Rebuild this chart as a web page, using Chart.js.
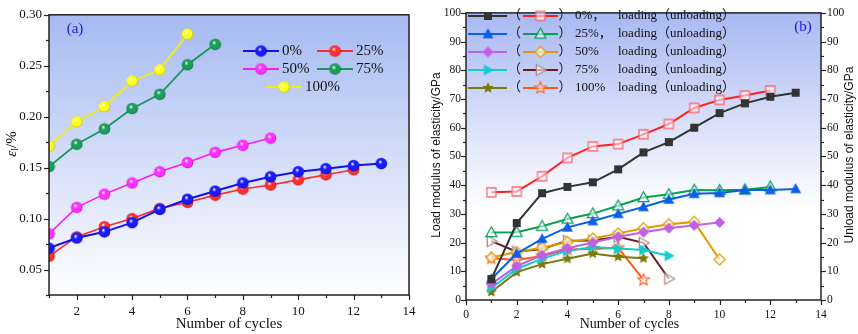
<!DOCTYPE html>
<html>
<head>
<meta charset="utf-8">
<script src="https://cdn.jsdelivr.net/npm/chart.js@4.4.1/dist/chart.umd.min.js"></script>
<style>
    html, body { margin: 0; padding: 0; background: #fff; }
    #wrapA { position: absolute; left: 0; top: 0; }
    #wrapB { position: absolute; left: 425px; top: 0; }
</style>
</head>
<body>
<div id="wrapA"><canvas id="chartA" width="425" height="334"></canvas></div>
<div id="wrapB"><canvas id="chartB" width="433" height="334"></canvas></div>
<script>
// ---- data (a): strain vs cycles ----
const cycles = [1, 2, 3, 4, 5, 6, 7, 8, 9, 10, 11, 12, 13];
const strainLabels = ['0%', '25%', '50%', '75%', '100%'];
const strain0 = [0.071, 0.081, 0.087, 0.096, 0.109, 0.119, 0.127, 0.135, 0.141, 0.146, 0.149, 0.152, 0.154];
const strain25 = [0.063, 0.082, 0.092, 0.100, 0.110, 0.116, 0.123, 0.129, 0.133, 0.138, 0.143, 0.148];
const strain50 = [0.085, 0.111, 0.124, 0.135, 0.146, 0.155, 0.165, 0.172, 0.179];
const strain75 = [0.151, 0.173, 0.188, 0.208, 0.222, 0.251, 0.271];
const strain100 = [0.171, 0.195, 0.210, 0.235, 0.246, 0.281];
const xLabelsA = [2, 4, 6, 8, 10, 12, 14];
const yLabelsA = [0.05, 0.10, 0.15, 0.20, 0.25, 0.30];

// ---- data (b): load / unload modulus ----
const modLabels = ['0%，', '25%，', '50%', '75%', '100%'];
const load0 = [7.3, 26.8, 37.2, 39.4, 41.0, 45.5, 51.4, 55.0, 60.0, 65.1, 68.5, 70.8, 72.2];
const unload0 = [37.5, 37.8, 43.1, 49.5, 53.5, 54.3, 57.7, 61.3, 66.9, 69.7, 71.2, 73.0];
const load25 = [7.3, 16.2, 21.3, 25.3, 27.5, 30.0, 32.4, 35.0, 37.0, 37.3, 38.3, 38.3, 38.7];
const unload25 = [23.5, 23.6, 25.7, 28.2, 30.1, 32.8, 35.7, 36.8, 38.3, 38.2, 38.4, 39.4];
const load50 = [5.6, 11.8, 15.6, 18.0, 20.0, 22.0, 23.6, 25.0, 26.0, 27.0];
const unload50 = [14.8, 16.7, 18.2, 20.2, 21.4, 23.2, 25.0, 26.4, 27.2, 14.1];
const load75 = [4.2, 10.8, 14.4, 17.1, 18.5, 17.9, 17.4, 15.4];
const unload75 = [20.5, 16.8, 17.8, 20.6, 20.7, 22.0, 19.9, 7.4];
const load100 = [2.8, 9.7, 12.5, 14.4, 16.2, 15.1, 14.5];
const unload100 = [14.5, 13.9, 15.3, 17.6, 17.8, 18.2, 7.0];
const xLabelsB = [0, 2, 4, 6, 8, 10, 12, 14];
const yLabelsB = [0, 10, 20, 30, 40, 50, 60, 70, 80, 90, 100];

const SERIF = "'Liberation Serif', 'Times New Roman', 'Noto Sans CJK SC', serif";
const SANS = "'Liberation Sans', Arial, sans-serif";

const toPts = arr => arr.map((y, i) => ({ x: cycles[i], y: y }));

// shaded ball marker for panel (a)
function sphere(color, dark) {
    const c = document.createElement('canvas');
    c.width = 13; c.height = 13;
    const g = c.getContext('2d');
    const grad = g.createRadialGradient(5.2, 4.6, 0.3, 6.5, 6.5, 6.3);
    grad.addColorStop(0, '#ffffff');
    grad.addColorStop(0.3, color);
    grad.addColorStop(0.75, color);
    grad.addColorStop(1, dark);
    g.fillStyle = grad;
    g.beginPath();
    g.arc(6.5, 6.5, 5.8, 0, Math.PI * 2);
    g.fill();
    return c;
}

// symbol markers for panel (b)
function marker(shape, size, fill, stroke) {
    const d = size + 6;
    const c = document.createElement('canvas');
    c.width = d; c.height = d;
    const g = c.getContext('2d');
    const m = d / 2, s = size / 2;
    g.beginPath();
    if (shape === 'square') {
        g.rect(m - s, m - s, size, size);
    } else if (shape === 'tri') {
        g.moveTo(m, m - s * 1.05); g.lineTo(m + s, m + s * 0.75); g.lineTo(m - s, m + s * 0.75); g.closePath();
    } else if (shape === 'diamond') {
        g.moveTo(m, m - s); g.lineTo(m + s, m); g.lineTo(m, m + s); g.lineTo(m - s, m); g.closePath();
    } else if (shape === 'triR') {
        g.moveTo(m + s * 1.05, m); g.lineTo(m - s * 0.75, m - s); g.lineTo(m - s * 0.75, m + s); g.closePath();
    } else if (shape === 'star') {
        for (let k = 0; k < 10; k++) {
            const r = k % 2 ? s * 0.45 : s;
            const a = -Math.PI / 2 + k * Math.PI / 5;
            const px = m + r * Math.cos(a), py = m + r * Math.sin(a);
            if (k === 0) g.moveTo(px, py); else g.lineTo(px, py);
        }
        g.closePath();
    }
    g.fillStyle = fill;
    g.fill();
    if (stroke) {
        g.lineWidth = 1.3;
        g.strokeStyle = stroke;
        g.stroke();
    }
    return c;
}

function lineSet(label, values, color, style, width) {
    return {
        label: label,
        data: toPts(values),
        borderColor: color,
        backgroundColor: color,
        borderWidth: width,
        pointStyle: style,
        pointRadius: 6,
        tension: 0
    };
}

// ---- panel (a) styles ----
const seriesA = [
    { data: strain0, color: '#1212ee', ball: sphere('#1a1aff', '#00007a'), w: 2 },
    { data: strain25, color: '#ff2a2a', ball: sphere('#ff3030', '#a00000'), w: 1.6 },
    { data: strain50, color: '#ff18ff', ball: sphere('#ff30ff', '#a000a0'), w: 1.6 },
    { data: strain75, color: '#16985a', ball: sphere('#1a9e5c', '#0a5030'), w: 1.8 },
    { data: strain100, color: '#eeee14', ball: sphere('#ffff20', '#a0a000'), w: 1.8 }
];

// ---- panel (b) styles ----
const seriesB = [
    { load: load0, unload: unload0, lc: '#333333', uc: '#ff2020',
      lm: marker('square', 8, '#333333', null), um: marker('square', 9, 'rgba(255,255,255,0.55)', '#ff6878') },
    { load: load25, unload: unload25, lc: '#0b5ee6', uc: '#08a050',
      lm: marker('tri', 11, '#0b5ee6', null), um: marker('tri', 11, 'rgba(255,255,255,0.55)', '#0aa060') },
    { load: load50, unload: unload50, lc: '#c060e6', uc: '#e09a00',
      lm: marker('diamond', 11, '#c060e6', null), um: marker('diamond', 11, 'rgba(255,255,255,0.6)', '#e8a010') },
    { load: load75, unload: unload75, lc: '#10cccc', uc: '#6a1c1c',
      lm: marker('triR', 11, '#10cccc', null), um: marker('triR', 11, 'rgba(255,255,255,0.6)', '#b08888') },
    { load: load100, unload: unload100, lc: '#7a7a0a', uc: '#ff5a14',
      lm: marker('star', 12, '#7a7a0a', null), um: marker('star', 12, 'rgba(255,255,255,0.6)', '#ff6a30') }
];

// ticks drawn from the scales (major outward, minor shorter) plus the frame
function drawFrame(chart) {
    const ctx = chart.ctx, a = chart.chartArea;
    ctx.save();
    ctx.strokeStyle = '#222';
    ctx.lineWidth = 1.2;
    Object.values(chart.scales).forEach(sc => {
        sc.ticks.forEach(t => {
            const p = Math.round(sc.getPixelForValue(t.value)) + 0.5;
            const len = t.label ? 5 : 3;
            ctx.beginPath();
            if (sc.axis === 'x') {
                ctx.moveTo(p, a.bottom); ctx.lineTo(p, a.bottom + len);
            } else if (sc.position === 'right') {
                ctx.moveTo(a.right, p); ctx.lineTo(a.right + len, p);
            } else {
                ctx.moveTo(a.left, p); ctx.lineTo(a.left - len, p);
            }
            ctx.stroke();
        });
    });
    ctx.lineWidth = 1.5;
    ctx.strokeRect(a.left, a.top, a.right - a.left, a.bottom - a.top);
    ctx.restore();
}

function fillBack(chart, top, stopAt) {
    const ctx = chart.ctx, a = chart.chartArea;
    const grad = ctx.createLinearGradient(0, a.top, 0, a.bottom);
    grad.addColorStop(0, top);
    grad.addColorStop(stopAt, '#ffffff');
    grad.addColorStop(1, '#ffffff');
    ctx.save();
    ctx.fillStyle = grad;
    ctx.fillRect(a.left, a.top, a.right - a.left, a.bottom - a.top);
    ctx.restore();
}

function text(ctx, str, x, y, font, color, align, rot) {
    ctx.save();
    ctx.translate(x, y);
    if (rot) ctx.rotate(rot);
    ctx.font = font;
    ctx.fillStyle = color || '#111';
    ctx.textAlign = align || 'center';
    ctx.textBaseline = 'middle';
    ctx.fillText(str, 0, 0);
    ctx.restore();
}

const decoA = {
    id: 'decoA',
    beforeDatasetsDraw(chart) { fillBack(chart, '#a6baf2', 1); },
    afterDatasetsDraw(chart) {
        const ctx = chart.ctx, a = chart.chartArea;
        drawFrame(chart);
        text(ctx, '(a)', 75, 29, '15px ' + SERIF, '#1c1cd6');
        text(ctx, 'Number of cycles', (a.left + a.right) / 2, 324, '15px ' + SERIF, '#111');

        // y title: epsilon with subscript l
        ctx.save();
        ctx.translate(12, 144);
        ctx.rotate(-Math.PI / 2);
        ctx.fillStyle = '#111';
        ctx.textBaseline = 'middle';
        ctx.textAlign = 'left';
        const parts = [['ε', 'italic 15px ' + SERIF, 0], ['l', '10px ' + SERIF, 3], ['/%', '15px ' + SERIF, 0]];
        let w = 0;
        parts.forEach(p => { ctx.font = p[1]; w += ctx.measureText(p[0]).width; });
        let x = -w / 2;
        parts.forEach(p => { ctx.font = p[1]; ctx.fillText(p[0], x, p[2]); x += ctx.measureText(p[0]).width; });
        ctx.restore();

        // legend
        const pos = [[243, 51], [317, 51], [243, 69], [317, 69], [266, 87]];
        seriesA.forEach((s, i) => {
            const [lx, ly] = pos[i];
            ctx.save();
            ctx.strokeStyle = s.color;
            ctx.lineWidth = 2;
            ctx.beginPath(); ctx.moveTo(lx, ly); ctx.lineTo(lx + 36, ly); ctx.stroke();
            ctx.drawImage(s.ball, lx + 18 - 6.5, ly - 6.5);
            ctx.restore();
            text(ctx, strainLabels[i], lx + 39, ly, '15px ' + SERIF, '#111', 'left');
        });
    }
};

const decoB = {
    id: 'decoB',
    beforeDatasetsDraw(chart) { fillBack(chart, '#a8b8f2', 0.68); },
    afterDatasetsDraw(chart) {
        const ctx = chart.ctx, a = chart.chartArea;
        drawFrame(chart);
        text(ctx, '(b)', 378, 27, '15px ' + SERIF, '#1c1cd6');
        text(ctx, 'Number of cycles', (a.left + a.right) / 2 - 14, 324, '14px ' + SERIF, '#111');
        text(ctx, 'Load modulus of elasticity/GPa', 12, 155, '12px ' + SANS, '#111', 'center', -Math.PI / 2);
        text(ctx, 'Unload modulus of elasticity/GPa', 425, 155, '12px ' + SANS, '#111', 'center', -Math.PI / 2);

        // legend
        seriesB.forEach((s, i) => {
            const ly = 16 + i * 18;
            ctx.save();
            ctx.lineWidth = 2;
            ctx.strokeStyle = s.lc;
            ctx.beginPath(); ctx.moveTo(43, ly); ctx.lineTo(82, ly); ctx.stroke();
            ctx.drawImage(s.lm, 63 - s.lm.width / 2, ly - s.lm.height / 2);
            ctx.strokeStyle = s.uc;
            ctx.beginPath(); ctx.moveTo(98, ly); ctx.lineTo(133, ly); ctx.stroke();
            ctx.drawImage(s.um, 115.5 - s.um.width / 2, ly - s.um.height / 2);
            ctx.restore();
            text(ctx, '（', 83, ly, '13px ' + SERIF, '#111', 'left');
            text(ctx, '）', 133.5, ly, '13px ' + SERIF, '#111', 'left');
            text(ctx, modLabels[i], 150, ly, '13px ' + SERIF, '#111', 'left');
            text(ctx, 'loading（unloading）', 193, ly, '13px ' + SERIF, '#111', 'left');
        });
    }
};

function pick(list, v) {
    return list.find(l => Math.abs(l - v) < 1e-9);
}

new Chart(document.getElementById('chartA'), {
    type: 'line',
    data: {
        datasets: seriesA.map((s, i) => lineSet(strainLabels[i], s.data, s.color, s.ball, s.w))
    },
    options: {
        responsive: false,
        animation: false,
        layout: { padding: { top: 6, right: 16, left: 0, bottom: 0 } },
        plugins: { legend: { display: false }, tooltip: { enabled: false } },
        scales: {
            x: {
                type: 'linear', min: 1, max: 14,
                afterFit(s) { s.height = 39; },
                grid: { display: false, drawTicks: false },
                border: { display: false },
                ticks: {
                    stepSize: 1, autoSkip: false, maxRotation: 0, padding: 9, color: '#111',
                    font: { family: SERIF, size: 13 },
                    callback: v => pick(xLabelsA, v) !== undefined ? String(v) : ''
                }
            },
            y: {
                type: 'linear', min: 0.025, max: 0.30,
                afterFit(s) { s.width = 49; },
                grid: { display: false, drawTicks: false },
                border: { display: false },
                ticks: {
                    stepSize: 0.025, autoSkip: false, padding: 7, color: '#111',
                    font: { family: SERIF, size: 13 },
                    callback: v => { const l = pick(yLabelsA, v); return l !== undefined ? l.toFixed(2) : ''; }
                }
            }
        }
    },
    plugins: [decoA]
});

const datasetsB = [];
seriesB.forEach((s, i) => {
    datasetsB.push(lineSet(strainLabels[i] + ' loading', s.load, s.lc, s.lm, 2));
    datasetsB.push(lineSet(strainLabels[i] + ' unloading', s.unload, s.uc, s.um, 2));
});

const tickB = v => pick(yLabelsB, v) !== undefined ? String(v) : '';

new Chart(document.getElementById('chartB'), {
    type: 'line',
    data: { datasets: datasetsB },
    options: {
        responsive: false,
        animation: false,
        layout: { padding: { top: 7, right: 0, left: 0, bottom: 0 } },
        plugins: { legend: { display: false }, tooltip: { enabled: false } },
        scales: {
            x: {
                type: 'linear', min: 0, max: 14,
                afterFit(s) { s.height = 34; },
                grid: { display: false, drawTicks: false },
                border: { display: false },
                ticks: {
                    stepSize: 1, autoSkip: false, maxRotation: 0, padding: 8, color: '#111',
                    font: { family: SERIF, size: 11.5 },
                    callback: v => pick(xLabelsB, v) !== undefined ? String(v) : ''
                }
            },
            y: {
                type: 'linear', position: 'left', min: 0, max: 100,
                afterFit(s) { s.width = 41; },
                grid: { display: false, drawTicks: false },
                border: { display: false },
                ticks: { stepSize: 5, autoSkip: false, padding: 5, color: '#111', font: { family: SERIF, size: 11.5 }, callback: tickB }
            },
            y2: {
                type: 'linear', position: 'right', min: 0, max: 100,
                afterFit(s) { s.width = 37; },
                grid: { display: false, drawTicks: false },
                border: { display: false },
                ticks: { stepSize: 5, autoSkip: false, padding: 6, color: '#111', font: { family: SERIF, size: 11.5 }, callback: tickB }
            }
        }
    },
    plugins: [decoB]
});
</script>
</body>
</html>
